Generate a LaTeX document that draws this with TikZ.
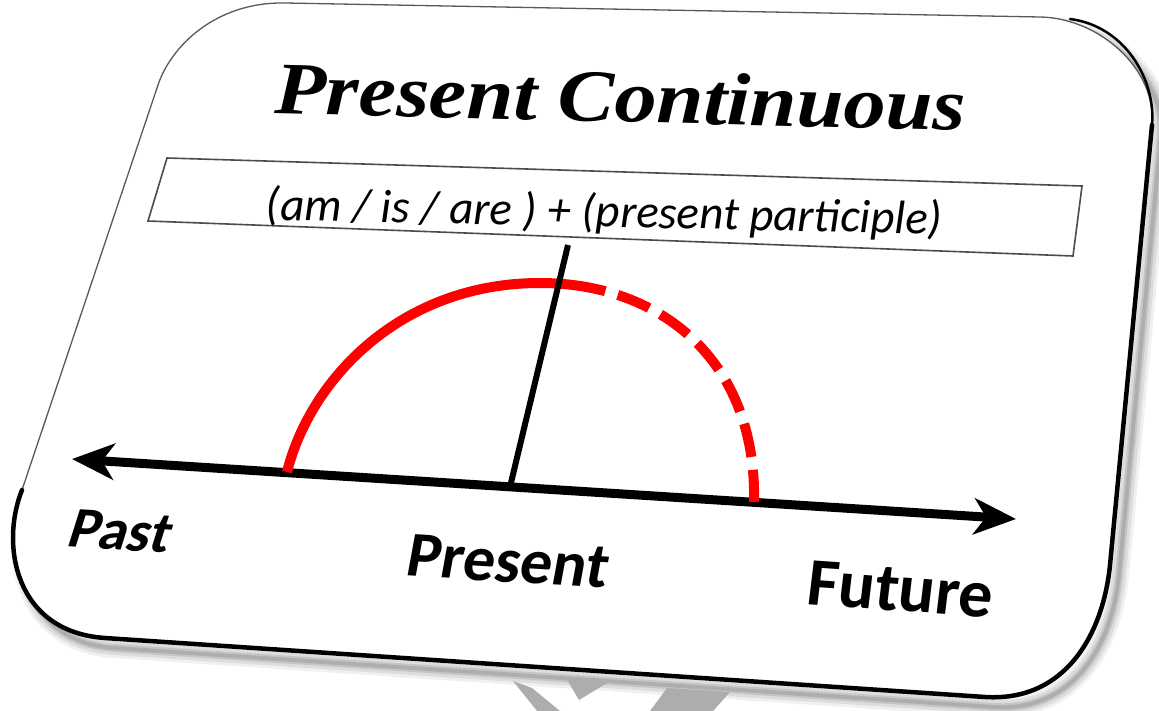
\documentclass[tikz,border=0pt]{standalone}
\usepackage{fontspec}
\usepackage{graphicx}
\usetikzlibrary{arrows.meta,calc}
\newfontfamily\titlefont{Liberation Serif}
\newfontfamily\lblfont{Carlito}
\newfontfamily\pastfont{Carlito}[FakeSlant=0.25]
\newfontfamily\presfont{Carlito}[FakeSlant=0.12]
\newfontfamily\futfont{Carlito}[FakeSlant=0.05]
\newcommand\cardshape[1]{\path[#1] (285,3) -- (1040,17) .. controls (1100,18) and (1157,70) .. (1152,125) -- (1110,565) .. controls (1103,635) and (1065,702) .. (985,697) -- (105,638) .. controls (15,632) and (0,545) .. (22,490) -- (158,85) .. controls (170.6,47) and (215,1.7) .. cycle;}
\begin{document}
\begin{tikzpicture}[x=1pt,y=-1pt,
  cardfill/.style={fill=white,draw=black!65,line width=1.3pt},
  rim/.style={draw=black,line width=4.5pt,line cap=round},
  refl/.style={fill=black!32},
  formbox/.style={draw=black!70,line width=1.6pt},
  axisline/.style={draw=black,line width=9pt},
  nowline/.style={draw=black,line width=6pt},
  arcsolid/.style={draw=red,line width=10pt},
  arcdash/.style={draw=red,line width=10pt,dash pattern=on 66pt off 13pt on 34pt off 13pt on 34pt off 13pt on 34pt off 13pt on 34pt off 13pt on 34pt off 13pt on 40pt off 100pt},
  titletext/.style={font=\titlefont\bfseries\itshape\fontsize{74}{80}\selectfont,anchor=base,inner sep=0pt},
  formtext/.style={font=\lblfont\itshape\fontsize{47}{52}\selectfont,anchor=base,inner sep=0pt},
  lbl/.style={anchor=base,inner sep=0pt}]
\useasboundingbox (0,0) rectangle (1159,711);
% soft shadow
\foreach \w/\o in {20/0.06,14/0.08,8/0.10,4/0.12}{
  \cardshape{draw=black,line width=\w pt,opacity=\o,shift={(9,10)}}
}
% faint reflection below the card
\fill[refl] (513,681) -- (532,688) -- (560,711) -- (537,711) -- cycle;
\fill[refl] (566,678) -- (607,683) -- (579,700) -- cycle;
\fill[refl] (667,688) -- (730,692) -- (713,711) -- (650,711) -- cycle;
% card
\cardshape{cardfill}
\draw[draw=black,line width=2.5pt,line cap=round] (1070,19) .. controls (1125,26) and (1156,80) .. (1152,125);
\draw[rim] (1152,125) -- (1110,565) .. controls (1103,635) and (1065,702) .. (985,697) -- (105,638) .. controls (15,632) and (0,545) .. (22,490);
% title and formula
\node[titletext,rotate=-1.4] (title) at (620,122) {\scalebox{1.14}[1]{Present Continuous}};
\draw[formbox] (167,158) -- (1082,186) -- (1073,256) -- (148,221) -- cycle;
\node[formtext,rotate=-1.2] (formula) at (604,227) {(am / is / are ) + (present participle)};
% time line
\coordinate (pastend) at (72,459);
\coordinate (futend) at (1016,519);
\draw[axisline,{Stealth[length=42pt,width=36pt,inset=12pt]}-{Stealth[length=42pt,width=36pt,inset=12pt]}] (pastend) -- (futend);
\coordinate (nowbase) at ($(pastend)!0.464!(futend)$);
\coordinate (nowtop) at (568,245);
% red arc
\coordinate (arcleft) at (287,472);
\coordinate (arctop) at (540,283);
\coordinate (arcright) at (754,502);
\draw[arcsolid] (arcleft) .. controls (310,380) and (400,283) .. (arctop);
\draw[arcdash] (arctop) .. controls (660,283) and (757,360) .. (arcright);
\draw[nowline] (nowbase) -- (nowtop);
% labels
\node[lbl,font=\pastfont\bfseries\fontsize{58}{64}\selectfont,rotate=-3.5] (past) at (116,550) {Past};
\node[lbl,font=\presfont\bfseries\fontsize{64}{70}\selectfont,rotate=-3.5] (present) at (505,582) {Present};
\node[lbl,font=\futfont\bfseries\fontsize{68}{74}\selectfont,rotate=-4] (future) at (898,611) {Future};
\end{tikzpicture}
\end{document}
